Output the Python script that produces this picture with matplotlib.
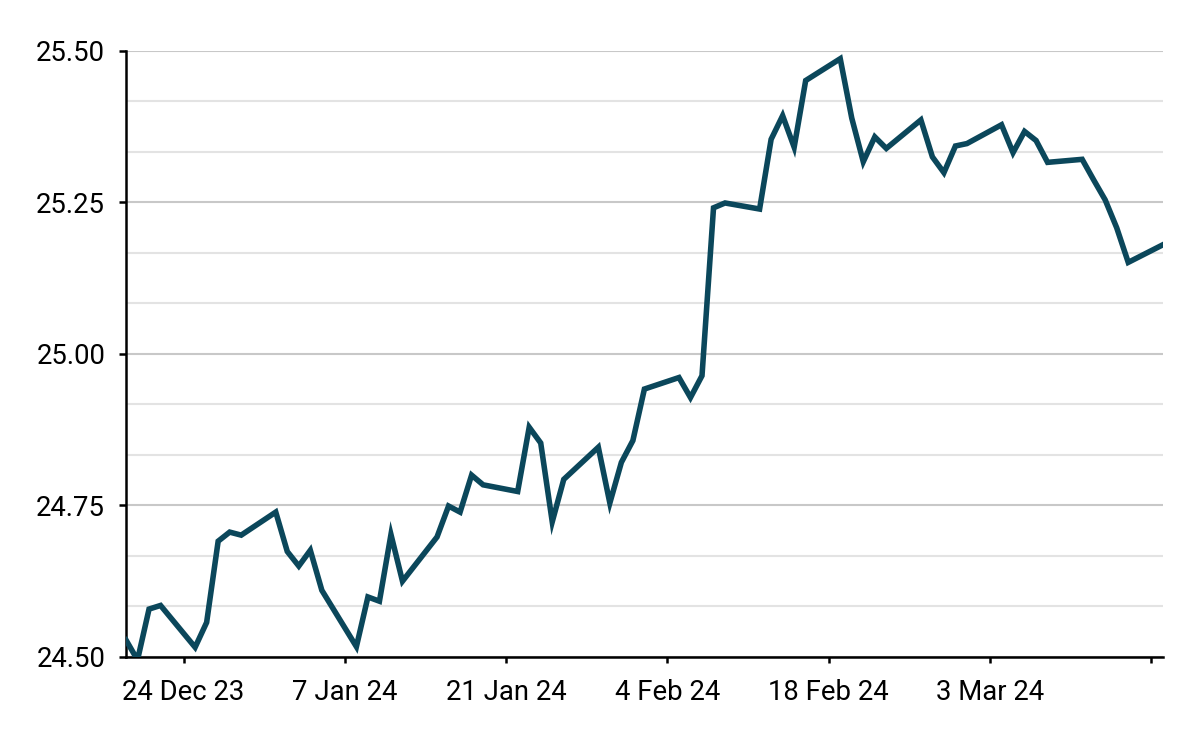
import matplotlib
matplotlib.use("Agg")
import matplotlib.pyplot as plt
import matplotlib.dates as mdates
from matplotlib.ticker import MultipleLocator, FixedLocator
import pandas as pd
import numpy as np

plt.rcParams['font.family'] = ['Roboto', 'DejaVu Sans']

start_date = "2023-12-19"
end_date = "2024-03-18"

values = [
    24.528, 24.495, 24.579, 24.585,
    24.516, 24.557, 24.691, 24.706, 24.701,
    24.739, 24.674, 24.650, 24.676, 24.610,
    24.517, 24.599, 24.592, 24.702, 24.625,
    24.698, 24.749, 24.739, 24.800, 24.784,
    24.773, 24.879, 24.853, 24.723, 24.793,
    24.846, 24.754, 24.821, 24.857, 24.942,
    24.961, 24.928, 24.964, 25.241, 25.249,
    25.239, 25.354, 25.393, 25.341, 25.451,
    25.487, 25.389, 25.317, 25.358, 25.339,
    25.386, 25.325, 25.299, 25.343, 25.347,
    25.378, 25.332, 25.367, 25.352, 25.316,
    25.321, 25.287, 25.254, 25.208, 25.151,
    25.180,
]

tick_dates = ["2023-12-24", "2024-01-07", "2024-01-21", "2024-02-04",
              "2024-02-18", "2024-03-03", "2024-03-17"]
tick_labels = ["24 Dec 23", "7 Jan 24", "21 Jan 24", "4 Feb 24",
               "18 Feb 24", "3 Mar 24", ""]

y_ticks = [24.50, 24.75, 25.00, 25.25, 25.50]
y_tick_labels = ["24.50", "24.75", "25.00", "25.25", "25.50"]

dates = pd.bdate_range(start_date, end_date)

fig = plt.figure(figsize=(12, 7.41), dpi=100)
ax = fig.add_axes([0.105, 0.1134, 0.864, 0.818])

ax.plot(dates, values, color="#0b475b", lw=4.0, solid_joinstyle="miter", zorder=3)

ax.set_xlim(pd.Timestamp(start_date), pd.Timestamp(end_date))
ax.set_ylim(24.5, 25.5)

ax.xaxis.set_major_locator(FixedLocator(mdates.date2num(pd.to_datetime(tick_dates))))
ax.set_xticklabels(tick_labels)
ax.set_yticks(y_ticks)
ax.set_yticklabels(y_tick_labels)
ax.yaxis.set_minor_locator(MultipleLocator(1 / 12))

ax.grid(axis='y', which='major', color='#c8c8c8', lw=1.5, zorder=0)
ax.grid(axis='y', which='minor', color='#e3e3e3', lw=1.5, zorder=0)
ax.set_axisbelow(True)

for s in ['top', 'right']:
    ax.spines[s].set_visible(False)
for s in ['left', 'bottom']:
    ax.spines[s].set_linewidth(1.8)
    ax.spines[s].set_color('black')

ax.tick_params(axis='y', which='major', length=5, width=1.8, pad=10, labelsize=19.8)
ax.tick_params(axis='y', which='minor', length=0)
ax.tick_params(axis='x', which='major', length=4, width=1.8, pad=12, labelsize=19.8)

fig.savefig("out.png", dpi=100, facecolor="white")
